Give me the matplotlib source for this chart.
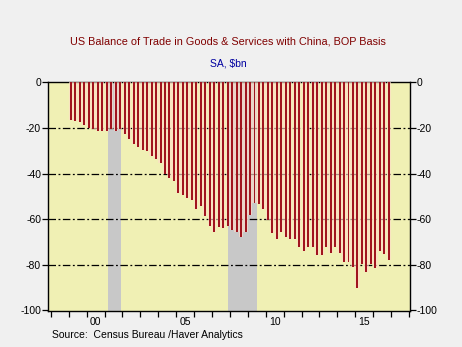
import numpy as np
import pandas as pd
import matplotlib
matplotlib.use("Agg")
import matplotlib.pyplot as plt

plt.rcParams['font.family'] = ['Liberation Sans', 'DejaVu Sans']

# quarterly US trade balance with China, $bn (1999Q1 - 2016Q4)
quarters = pd.period_range("1999Q1", "2016Q4", freq="Q")
balance = [-16.5, -16.8, -17.4, -18.8, -20.0, -20.3, -21.4, -21.5,
           -21.4, -20.3, -21.2, -20.5, -22.5, -24.8, -27.0, -28.2,
           -29.5, -30.2, -32.2, -33.5, -35.5, -40.0, -42.0, -43.5,
           -48.4, -49.3, -50.7, -51.7, -55.6, -54.4, -58.5, -63.0,
           -65.8, -63.7, -63.8, -63.0, -64.8, -65.5, -68.0, -65.6,
           -58.4, -52.8, -53.2, -55.6, -60.3, -66.2, -68.9, -65.9,
           -68.1, -68.9, -68.9, -72.1, -73.9, -72.4, -72.4, -76.0,
           -75.7, -72.4, -74.8, -72.4, -75.1, -78.8, -78.8, -81.0,
           -90.2, -79.6, -83.2, -79.9, -81.3, -73.9, -75.4, -78.0]
recessions = [(2001.17, 2001.92), (2007.92, 2009.5)]
year_labels = ["00", "05", "10", "15"]
label_years = [2000, 2005, 2010, 2015]
y_ticks = [0, -20, -40, -60, -80, -100]

x = np.array([q.year + (q.quarter - 0.5) / 4 for q in quarters])

fig = plt.figure(figsize=(4.62, 3.47), dpi=100, facecolor="#F0F0F0")
ax = fig.add_axes([48 / 462, 36 / 347, 362 / 462, 229 / 347])
ax.set_facecolor("#F0F0B4")

# recession shading
for r0, r1 in recessions:
    ax.axvspan(r0, r1, color="#C8C8C8", lw=0, zorder=1)

# dash-dot grid
for v in [-20, -40, -60, -80]:
    ax.axhline(v, color="black", lw=0.9, ls=(0, (6, 2, 1.5, 2)), zorder=2)

# bars: pale fill with dark red centre stripe
ax.bar(x, balance, width=0.24, color="#FFDCC8", alpha=0.65, lw=0, zorder=3)
ax.bar(x, balance, width=0.11, color="#A0141E", lw=0, zorder=4)

ax.set_xlim(1997.84, 2018.06)
ax.set_ylim(-100.4, 0.2)

# year ticks at boundaries, labels centred in the year
ax.set_xticks(np.arange(1998, 2019))
ax.set_xticklabels([])
ax.set_xticks([y + 0.5 for y in label_years], minor=True)
ax.set_xticklabels(year_labels, minor=True)
ax.tick_params(axis="x", which="major", direction="out", length=4, width=0.9)
ax.tick_params(axis="x", which="minor", length=0, labelsize=7.5, pad=4.5)

ax.set_yticks(y_ticks)
ax.set_yticklabels([str(v) for v in y_ticks])
ax.tick_params(axis="y", which="major", direction="out", length=4, width=0.9,
               labelsize=7.5, pad=1, left=True, right=True,
               labelleft=True, labelright=True)

for s in ax.spines.values():
    s.set_linewidth(1)
    s.set_color("black")

fig.text(228 / 462, 1 - 41 / 347, "US Balance of Trade in Goods & Services with China, BOP Basis",
         ha="center", va="center", fontsize=7.8, color="#800000")
fig.text(228 / 462, 1 - 63 / 347, "SA, $bn", ha="center", va="center",
         fontsize=7.5, color="#0000A0")
fig.text(52 / 462, 1 - 335 / 347, "Source:  Census Bureau /Haver Analytics",
         ha="left", va="center", fontsize=7.5, color="black")

fig.savefig("out.png", dpi=100, facecolor=fig.get_facecolor())
